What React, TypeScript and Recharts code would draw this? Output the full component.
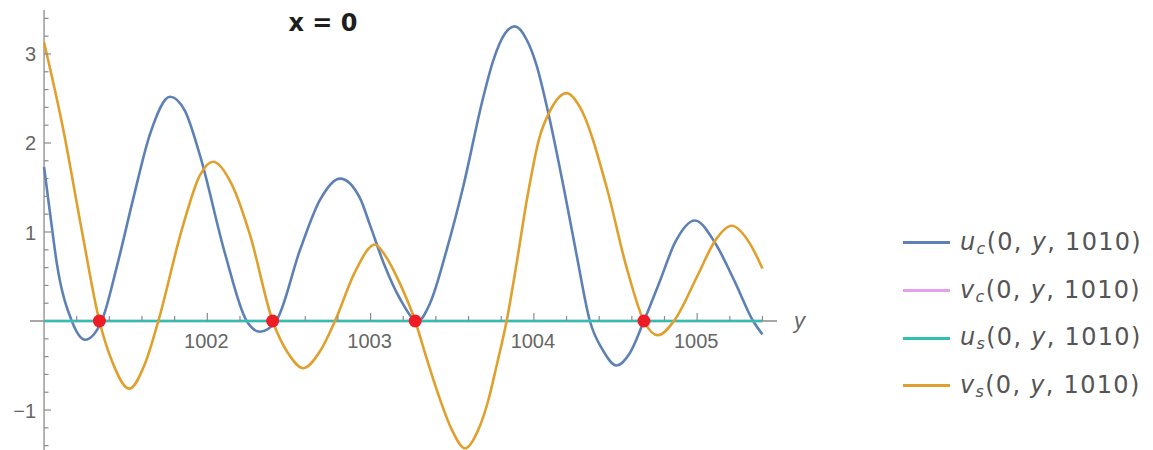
import { Line, LineChart, ReferenceDot, ReferenceLine, XAxis, YAxis } from 'recharts'

// u_c(0, y, 1010)
const ucX = [
  1001.0, 1001.037, 1001.078, 1001.17, 1001.251, 1001.353, 1001.447, 1001.547, 1001.649, 1001.772,
  1001.863, 1001.955, 1002.108, 1002.241, 1002.323, 1002.421, 1002.568, 1002.69, 1002.813, 1002.935,
  1002.996, 1003.082, 1003.18, 1003.29, 1003.364, 1003.466, 1003.566, 1003.688, 1003.75, 1003.823,
  1003.884, 1003.956, 1004.017, 1004.088, 1004.19, 1004.262, 1004.343, 1004.423, 1004.507, 1004.588,
  1004.674, 1004.772, 1004.864, 1004.986, 1005.109, 1005.231, 1005.343, 1005.4,
]
const ucY = [
  1.73, 1.21, 0.65, 0, -0.21, 0, 0.62, 1.38, 2.1, 2.52,
  2.36, 1.86, 0.76, 0, -0.12, 0, 0.8, 1.36, 1.6, 1.38,
  1.08, 0.64, 0.25, 0, 0.2, 0.8, 1.5, 2.5, 2.92, 3.23,
  3.31, 3.16, 2.87, 2.34, 1.43, 0.74, 0, -0.33, -0.5, -0.36,
  0, 0.45, 0.88, 1.13, 0.88, 0.44, 0, -0.15,
]

// v_s(0, y, 1010)
const vsX = [
  1001.0, 1001.118, 1001.231, 1001.339, 1001.416, 1001.522, 1001.618, 1001.7, 1001.843, 1001.955,
  1002.035, 1002.151, 1002.261, 1002.4, 1002.494, 1002.588, 1002.69, 1002.782, 1002.904, 1003.027,
  1003.088, 1003.18, 1003.273, 1003.343, 1003.425, 1003.497, 1003.578, 1003.66, 1003.721, 1003.772,
  1003.833, 1003.898, 1003.956, 1004.037, 1004.088, 1004.201, 1004.283, 1004.446, 1004.568, 1004.674,
  1004.76, 1004.858, 1005.005, 1005.109, 1005.211, 1005.323, 1005.4,
]
const vsY = [
  3.13, 2.15, 1.02, 0, -0.45, -0.76, -0.48, 0, 1.02, 1.64,
  1.79, 1.53, 0.97, 0, -0.36, -0.53, -0.34, 0, 0.55, 0.86,
  0.74, 0.42, 0, -0.42, -0.88, -1.22, -1.43, -1.22, -0.89, -0.5,
  0, 0.69, 1.35, 2.08, 2.32, 2.56, 2.4, 1.5, 0.6, 0,
  -0.16, 0, 0.52, 0.9, 1.07, 0.87, 0.59,
]

// v_c and u_s are zero over the whole range
const flatX = [1001.0, 1005.4]
const vcY = [0, 0]
const usY = [0, 0]

const zeroPoints = [1001.339, 1002.4, 1003.273, 1004.674]

const xMajorTicks = [1002, 1003, 1004, 1005]
const xMinorTicks = [
  1001.2, 1001.4, 1001.6, 1001.8, 1002.2, 1002.4, 1002.6, 1002.8, 1003.2, 1003.4,
  1003.6, 1003.8, 1004.2, 1004.4, 1004.6, 1004.8, 1005.2, 1005.4,
]
const yMajorTicks = [-1, 1, 2, 3]
const yTickLabels = ['\u22121', '1', '2', '3']
const yMinorTicks = [
  -1.4, -1.2, -0.8, -0.6, -0.4, -0.2, 0.2, 0.4, 0.6, 0.8,
  1.2, 1.4, 1.6, 1.8, 2.2, 2.4, 2.6, 2.8, 3.2, 3.4,
]

const legendItems = [
  { base: 'u', sub: 'c', color: '#5E81B5' },
  { base: 'v', sub: 'c', color: '#E79DF0' },
  { base: 'u', sub: 's', color: '#33BFAE' },
  { base: 'v', sub: 's', color: '#E0A02E' },
]

const X_DOMAIN: [number, number] = [1000.914, 1005.489]
const Y_DOMAIN: [number, number] = [-1.449, 3.494]
const AXIS = '#8a8a8a'
const LABEL = '#666'
const FONT = '"Liberation Sans", Arial, sans-serif'
const LEGEND_FONT = '"DejaVu Sans", sans-serif'

const toRows = (xs: number[], ys: number[]) => xs.map((x, i) => ({ x, v: ys[i] }))

const ucData = toRows(ucX, ucY)
const vsData = toRows(vsX, vsY)
const vcData = toRows(flatX, vcY)
const usData = toRows(flatX, usY)

function xTick(len: number, label?: string) {
  return (p: any) => (
    <g>
      <line x1={p.cx} y1={p.cy} x2={p.cx} y2={p.cy - len} stroke={AXIS} strokeWidth={1.2} />
      {label ? (
        <text x={p.cx - 1} y={p.cy + 27} textAnchor="middle" fill={LABEL} fontSize={20} fontFamily={FONT}>
          {label}
        </text>
      ) : null}
    </g>
  )
}

function yTick(len: number, label?: string) {
  return (p: any) => (
    <g>
      <line x1={p.cx} y1={p.cy} x2={p.cx + len} y2={p.cy} stroke={AXIS} strokeWidth={1.2} />
      {label ? (
        <text x={p.cx - 8} y={p.cy + 7.5} textAnchor="end" fill={LABEL} fontSize={20} fontFamily={FONT}>
          {label}
        </text>
      ) : null}
    </g>
  )
}

const axisEndLabel = (p: any) => (
  <text x={p.cx + 17} y={p.cy + 7} fill={LABEL} fontSize={22} fontStyle="italic" fontFamily={FONT}>
    y
  </text>
)

function Legend() {
  return (
    <div style={{ position: 'absolute', left: 903, top: 219 }}>
      {legendItems.map((it) => (
        <div
          key={it.base + it.sub}
          style={{ display: 'flex', alignItems: 'center', height: 47.7, color: '#555', fontFamily: LEGEND_FONT, fontSize: 24 }}
        >
          <span style={{ display: 'inline-block', width: 47, height: 3, background: it.color, marginRight: 10 }} />
          <span style={{ letterSpacing: 1.3, whiteSpace: 'nowrap' }}>
            <i>{it.base}</i>
            <sub style={{ fontSize: 16, fontStyle: 'italic', verticalAlign: -4 }}>{it.sub}</sub>
            (0, <i>y</i>, 1010)
          </span>
        </div>
      ))}
    </div>
  )
}

export default function App() {
  return (
    <div style={{ position: 'absolute', left: 0, top: 0, width: 1153, height: 450, background: '#fff', overflow: 'hidden' }}>
      <div
        style={{
          position: 'absolute',
          left: 0,
          top: 11,
          width: 646,
          textAlign: 'center',
          fontFamily: LEGEND_FONT,
          fontWeight: 'bold',
          fontSize: 24,
          lineHeight: '25px',
          color: '#1e1e1e',
        }}
      >
        x = 0
      </div>

      <LineChart width={1153} height={450} margin={{ top: 10, right: 376, bottom: 0, left: 30 }}>
        <XAxis dataKey="x" type="number" domain={X_DOMAIN} allowDataOverflow hide />
        <YAxis type="number" domain={Y_DOMAIN} allowDataOverflow hide />

        <ReferenceLine y={0} stroke={AXIS} strokeWidth={1.3} />
        <ReferenceLine x={1001} stroke={AXIS} strokeWidth={1.3} />

        {xMinorTicks.map((t) => (
          <ReferenceDot key={'xm' + t} x={t} y={0} r={0} shape={xTick(5)} />
        ))}
        {xMajorTicks.map((t) => (
          <ReferenceDot key={'xM' + t} x={t} y={0} r={0} shape={xTick(8, String(t))} />
        ))}
        {yMinorTicks.map((t) => (
          <ReferenceDot key={'ym' + t} x={1001} y={t} r={0} shape={yTick(4.5)} />
        ))}
        {yMajorTicks.map((t, i) => (
          <ReferenceDot key={'yM' + t} x={1001} y={t} r={0} shape={yTick(7, yTickLabels[i])} />
        ))}
        <ReferenceDot x={X_DOMAIN[1]} y={0} r={0} shape={axisEndLabel} />

        <Line data={ucData} dataKey="v" type="monotone" stroke="#5E81B5" strokeWidth={2.6} dot={false} isAnimationActive={false} />
        <Line data={vcData} dataKey="v" type="linear" stroke="#E79DF0" strokeWidth={2.6} dot={false} isAnimationActive={false} />
        <Line data={usData} dataKey="v" type="linear" stroke="#33BFAE" strokeWidth={2.6} dot={false} isAnimationActive={false} />
        <Line data={vsData} dataKey="v" type="monotone" stroke="#E0A02E" strokeWidth={2.6} dot={false} isAnimationActive={false} />

        {zeroPoints.map((t) => (
          <ReferenceDot key={'z' + t} x={t} y={0} r={6.5} fill="#EE1C25" stroke="none" />
        ))}
      </LineChart>

      <Legend />
    </div>
  )
}
